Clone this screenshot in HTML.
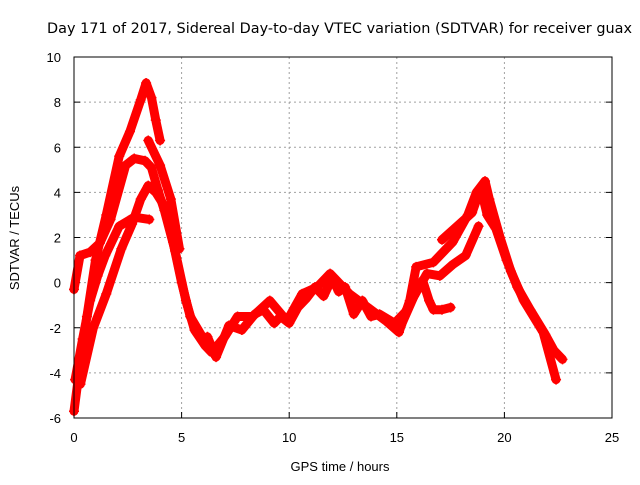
<!DOCTYPE html>
<html><head><meta charset="utf-8"><style>
body{margin:0;background:#fff;font-family:"Liberation Sans",sans-serif}
svg text{font-family:"Liberation Sans",sans-serif;font-size:13px;fill:#000}
</style></head><body>
<svg id="chart" width="640" height="480" xmlns="http://www.w3.org/2000/svg">
<text x="47" y="33" textLength="585" lengthAdjust="spacingAndGlyphs" style="font-family:'DejaVu Sans',sans-serif;font-size:14px">Day 171 of 2017, Sidereal Day-to-day VTEC variation (SDTVAR) for receiver guax</text>
<text x="340" y="471" text-anchor="middle" font-size="14">GPS time / hours</text>
<text transform="translate(19,238) rotate(-90)" text-anchor="middle" font-size="14">SDTVAR / TECUs</text>
<g id="grid"></g><g id="ticks"></g><g id="marks"></g>
<rect x="74" y="57" width="538" height="361" fill="none" stroke="#000" stroke-width="1"/>
</svg>
<script>
const xTicks=[0,5,10,15,20,25];
const yTicks=[-6,-4,-2,0,2,4,6,8,10];
const seriesA=[[0,-5.7],[0.3,-3.5],[0.6,-1.5],[1,1.0],[1.5,3.0],[2.1,5.6],[2.6,6.7],[3.1,8.1],[3.35,8.85],[3.6,8.2],[3.8,7.2],[4.0,6.3]];
const seriesB=[[0,-0.3],[0.28,1.2],[0.75,1.35],[1.2,1.75],[1.7,2.8],[2.4,5.2],[2.8,5.5],[3.3,5.4],[3.6,5.1],[3.9,4.1],[4.2,3.2],[4.7,1.4],[5.2,-0.8],[5.6,-2.1],[6.1,-2.8],[6.4,-3.1],[7.0,-2.4],[7.6,-1.5],[8.3,-1.5],[9.1,-0.8],[9.9,-1.7],[10.6,-0.5],[11.3,-0.2],[11.9,0.4],[12.8,-0.5],[13.8,-1.2],[14.5,-1.7],[15.1,-2.2],[15.6,-0.8],[15.9,0.7],[16.7,0.9],[17.6,1.8],[18.3,3.0],[18.7,4.0],[19.1,4.5],[19.3,3.7],[19.8,2.0],[20.3,0.5],[20.9,-0.8],[21.8,-2.2],[22.4,-4.3]];
const seriesC=[[0.05,-4.3],[0.4,-2.5],[0.75,-0.8],[1.1,0.3],[1.45,1.2],[2.1,2.5],[2.8,2.9],[3.5,2.8]];
const seriesD=[[0.3,-4.5],[0.9,-2.0],[1.5,-0.5],[2.2,1.5],[2.7,2.6],[3.1,3.7],[3.45,4.3],[3.8,4.0],[4.2,3.4],[4.6,1.8],[5.0,0.0],[5.4,-1.5],[5.9,-2.3]];
const seriesE=[[3.45,6.3],[4.0,5.2],[4.5,3.7],[4.9,1.5]];
const seriesF=[[6.2,-2.4],[6.6,-3.3],[7.2,-1.9],[7.8,-2.1],[8.4,-1.4],[8.8,-1.2],[9.3,-1.8],[9.6,-1.5],[10.0,-1.8],[10.4,-1.1],[10.8,-0.7],[11.2,-0.2],[11.6,-0.6],[12.0,0.2],[12.3,-0.4],[12.6,-0.2],[13.0,-1.4],[13.4,-0.8],[13.8,-1.5],[14.2,-1.4],[14.9,-1.8],[15.4,-1.3],[15.8,-0.6],[16.2,0.1],[16.5,-0.8],[16.7,-1.2],[17.1,-1.2],[17.5,-1.1]];
const seriesG=[[17.1,1.9],[17.8,2.5],[18.5,3.1],[18.9,4.2],[19.2,3.0],[19.6,2.4],[20.1,1.0],[20.6,-0.2],[21.2,-1.2],[21.9,-2.3],[22.3,-3.0],[22.7,-3.4]];
const seriesH=[[15.2,-1.9],[15.8,-0.6],[16.4,0.4],[17.0,0.3],[17.6,0.8],[18.2,1.2],[18.8,2.5]];
const allSeries=[seriesA,seriesB,seriesC,seriesD,seriesE,seriesF,seriesG,seriesH];
const ns="http://www.w3.org/2000/svg";
const X=h=>74+h*538/25, Y=v=>418-(v+6)*361/16;
const grid=document.getElementById('grid'),ticks=document.getElementById('ticks'),marks=document.getElementById('marks');
function mk(tag,attrs,parent){const e=document.createElementNS(ns,tag);for(const k in attrs)e.setAttribute(k,attrs[k]);parent.appendChild(e);return e;}
xTicks.forEach(t=>{
 if(t>0&&t<25){const g=mk('line',{x1:X(t),x2:X(t),y1:57,y2:418,stroke:'#a0a0a0','stroke-dasharray':'2,3'},grid);
 
 }
 const l=mk('text',{x:X(t),y:442,'text-anchor':'middle'},ticks);l.textContent=t;
 
 
 mk('line',{x1:X(t),x2:X(t),y1:418,y2:412,stroke:'#000'},ticks);
});
yTicks.forEach(t=>{
 if(t>-6&&t<10){const g=mk('line',{x1:74,x2:612,y1:Y(t),y2:Y(t),stroke:'#a0a0a0','stroke-dasharray':'2,3'},grid);
 
 }
 const l=mk('text',{x:61,y:Y(t)+5,'text-anchor':'end'},ticks);l.textContent=t;
 
 
 mk('line',{x1:74,x2:80,y1:Y(t),y2:Y(t),stroke:'#000'},ticks);
 mk('line',{x1:606,x2:612,y1:Y(t),y2:Y(t),stroke:'#000'},ticks);
});
allSeries.forEach((s,i)=>{
 const p=mk('polyline',{points:s.map(d=>X(d[0])+','+Y(d[1])).join(' '),fill:'none',stroke:'#ff0000','stroke-width':9,'stroke-linejoin':'round','stroke-linecap':'round'},marks);
 
 
 s.forEach(d=>{
  const m=mk('path',{d:`M${X(d[0])-5},${Y(d[1])}h10M${X(d[0])},${Y(d[1])-5}v10`,stroke:'#ff0000','stroke-width':1.5},marks);
  
  
 });
});
</script>
</body></html>
